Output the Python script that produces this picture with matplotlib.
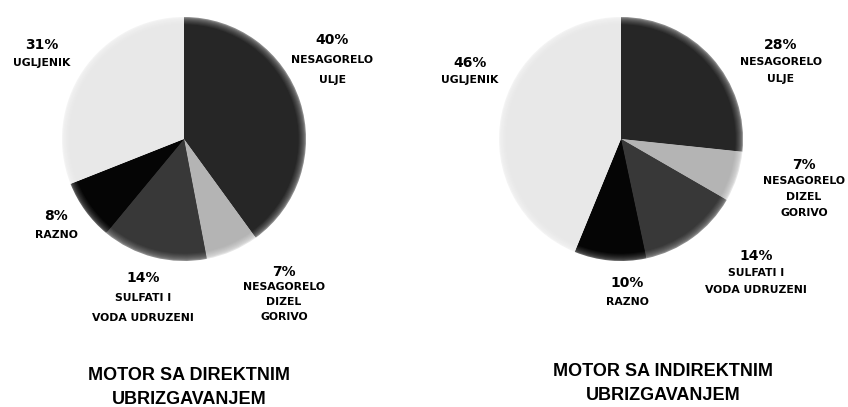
"""Two bevelled pie charts: exhaust particle composition, direct vs indirect injection."""

import numpy as np
import matplotlib.pyplot as plt
from matplotlib.colors import to_rgb

W, H = 848, 407

# slice order: clockwise from 12 o'clock
categories = ["ULJE", "DIZEL", "SULFATI", "RAZNO", "UGLJENIK"]
direct_values = [40, 7, 14, 8, 31]
indirect_values = [28, 7, 14, 10, 46]

direct_labels = ["40%\nNESAGORELO\nULJE", "7%\nNESAGORELO\nDIZEL\nGORIVO",
                 "14%\nSULFATI I\nVODA UDRUZENI", "8%\nRAZNO", "31%\nUGLJENIK"]
indirect_labels = ["28%\nNESAGORELO\nULJE", "7%\nNESAGORELO\nDIZEL\nGORIVO",
                   "14%\nSULFATI I\nVODA UDRUZENI", "10%\nRAZNO", "46%\nUGLJENIK"]

titles = ["MOTOR SA DIREKTNIM\nUBRIZGAVANJEM", "MOTOR SA INDIREKTNIM\nUBRIZGAVANJEM"]

face_colors = ["#262626", "#b4b4b4", "#383838", "#050505", "#e8e8e8"]
rim_colors = ["#8c8c8c", "#e6e6e6", "#8c8c8c", "#5e5e5e", "#f4f4f4"]

# pixel positions (origin top-left): (x, y of first line, line pitch)
centers = [(184, 139), (621, 139)]
RADIUS = 122
direct_label_pos = [(332, 40, 20), (284, 272, 15), (143, 278, 20),
                    (56, 216, 19), (42, 45, 18)]
indirect_label_pos = [(781, 45, 17), (804, 165, 16), (756, 256, 17),
                      (627, 283, 19), (470, 63, 17)]
title_pos = [(189, 375), (663, 371)]
TITLE_PITCH = 25


def blend(c1, c2, t):
    a, b = np.array(to_rgb(c1)), np.array(to_rgb(c2))
    return tuple(a * (1 - t) + b * t)


def bevel_pie(ax, values, center, radius):
    # stack of shrinking pies fading from rim shade to face shade
    cx, cy = center[0], H - center[1]
    steps = 8
    for i in range(steps):
        t = i / (steps - 1)
        r = radius * (1 - 0.06 * t)
        cols = [blend(rc, fc, t ** 0.6) for rc, fc in zip(rim_colors, face_colors)]
        ax.pie(values, colors=cols, startangle=90, counterclock=False,
               center=(cx, cy), radius=r,
               wedgeprops=dict(linewidth=0))


def put_labels(ax, labels, positions):
    for text, (x, y, pitch) in zip(labels, positions):
        lines = text.split("\n")
        ax.text(x, H - y, lines[0], ha="center", va="center", fontsize=10,
                fontweight="bold", family="DejaVu Sans")
        for k, line in enumerate(lines[1:]):
            ax.text(x, H - y - pitch * (k + 1), line, ha="center", va="center",
                    fontsize=7.8, fontweight="bold", family="DejaVu Sans")


def main():
    fig = plt.figure(figsize=(W / 100, H / 100), dpi=100)
    ax = fig.add_axes([0, 0, 1, 1])
    ax.axis("off")

    bevel_pie(ax, direct_values, centers[0], RADIUS)
    bevel_pie(ax, indirect_values, centers[1], RADIUS)
    ax.set_xlim(0, W)
    ax.set_ylim(0, H)
    ax.set_aspect("equal")

    put_labels(ax, direct_labels, direct_label_pos)
    put_labels(ax, indirect_labels, indirect_label_pos)

    for text, (x, y) in zip(titles, title_pos):
        for k, line in enumerate(text.split("\n")):
            ax.text(x, H - y - TITLE_PITCH * k, line, ha="center", va="center",
                    fontsize=13, fontweight="bold", family="Liberation Sans")

    fig.savefig("out.png", dpi=100)
    plt.close(fig)


if __name__ == "__main__":
    main()
